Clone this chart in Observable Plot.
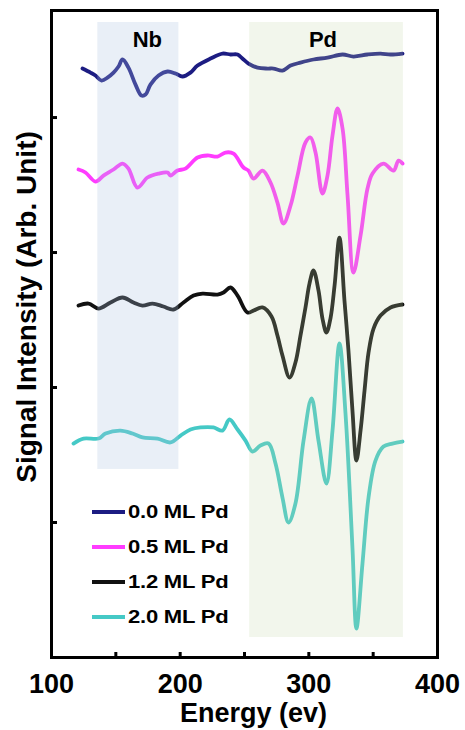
<!DOCTYPE html>
<html>
<head>
<meta charset="utf-8">
<script src="https://cdn.jsdelivr.net/npm/d3@7"></script>
<script src="https://cdn.jsdelivr.net/npm/@observablehq/plot@0.6"></script>
<style>
  html, body { margin: 0; padding: 0; background: #fff; }
  #wrap { position: relative; width: 465px; height: 730px; overflow: hidden; font-family: "Liberation Sans", Arial, sans-serif; }
  #legend { position: absolute; left: 92px; top: 500px; }
  .row { position: absolute; left: 0; height: 24px; display: flex; align-items: center; white-space: nowrap; }
  .sw { width: 33px; height: 3.5px; }
  .lab { font-weight: bold; font-size: 19px; color: #000; transform: scaleX(1.16); transform-origin: left center; margin-left: 3px; letter-spacing: -0.2px; }
</style>
</head>
<body>
<div id="wrap"></div>
<script>
// ---- series ----
const seriesNames  = ["0.0 ML Pd", "0.5 ML Pd", "1.2 ML Pd", "2.0 ML Pd"];
const seriesColors = ["#1c1c82", "#ff3cff", "#111111", "#45c9c6"];

// energy (eV) and signal (arb. units)
const energy00 = [124.1,130.3,134.2,138.9,143.5,148.2,152.1,155.2,159.8,165.3,169.9,173.1,176.9,183.2,190.2,196.4,201.8,208.0,213.5,223.6,232.9,239.1,244.6,248.4,253.1,260.1,267.9,272.5,279.5,285.8,293.5,303.6,314.5,326.2,334.7,345.6,355.7,363.5,372.8];
const signal00 = [436.3,433.3,431.1,427.4,429.6,433.3,437.8,443.0,437.0,424.4,416.3,417.0,424.4,431.1,434.1,432.6,430.4,433.3,438.5,443.7,447.4,446.7,446.7,443.7,440.0,437.0,436.3,436.3,434.8,438.5,440.7,443.0,444.4,446.7,445.2,446.7,447.4,446.7,447.4];

const energy05 = [121.0,126.4,134.2,140.4,148.2,155.2,159.8,166.8,174.6,183.2,190.2,192.5,197.9,204.1,213.5,221.2,229.0,235.2,241.5,249.2,253.1,257.0,264.0,270.2,275.6,280.3,285.8,291.2,297.4,301.3,305.2,310.6,314.5,318.4,322.3,326.2,330.1,334.7,340.2,345.6,349.5,358.0,365.8,369.7,372.8];
const signal05 = [361.5,359.3,352.6,357.0,361.5,365.9,362.2,348.1,355.6,358.5,359.3,357.0,360.7,362.2,370.4,371.9,371.1,374.1,373.3,363.0,360.7,354.8,360.7,351.9,337.0,321.5,334.8,357.0,381.5,385.2,374.1,343.7,357.0,386.7,406.7,391.9,342.2,285.2,312.6,347.4,358.5,365.9,360.7,368.1,365.9];

const energy12 = [121.0,128.8,136.5,145.9,155.2,163.7,170.7,178.5,187.0,194.8,202.6,210.4,217.4,229.0,233.7,239.1,244.6,252.3,257.0,264.0,271.0,275.6,279.5,285.0,289.6,293.5,297.4,300.5,303.6,307.5,310.6,313.7,316.8,320.0,323.8,327.7,330.8,333.9,337.0,340.2,343.3,346.4,350.3,355.7,363.5,372.8];
const signal12 = [260.7,262.2,258.5,263.0,266.7,263.0,260.7,262.2,260.0,257.8,263.0,268.1,269.6,268.9,270.4,274.1,268.1,255.6,257.0,259.3,252.6,238.5,223.7,207.4,218.5,238.5,259.3,277.0,286.7,271.9,251.1,240.7,251.1,275.6,311.1,264.4,227.4,183.0,145.9,168.1,197.8,225.9,243.7,253.3,259.3,261.5];

const energy20 = [117.1,124.9,136.5,142.0,153.6,163.0,170.7,182.4,192.5,200.3,208.0,215.8,225.9,232.9,238.3,244.6,250.8,256.2,262.4,268.7,274.1,279.5,284.2,289.6,295.9,302.1,307.5,313.7,318.4,323.8,328.5,333.9,337.0,341.7,346.4,351.8,358.0,365.0,372.8];
const signal20 = [158.5,162.2,162.2,165.9,168.1,165.9,163.0,162.2,159.3,164.4,168.9,170.4,170.4,168.1,176.3,168.9,160.7,152.6,157.0,158.5,143.7,118.5,100.0,114.1,160.7,191.9,160.7,128.9,168.1,232.6,180.7,81.5,21.5,69.6,118.5,145.9,156.3,158.5,160.0];

// ---- shaded regions ----
const regionNames   = ["Nb", "Pd"];
const regionStart   = [136, 254];
const regionEnd     = [199, 373.5];
const regionTop     = [470.4, 470.4];
const regionBottom  = [139.3, 14.8];
const regionLabelX  = [174.5, 311];
const regionFill    = ["rgb(175,195,225)", "rgb(195,215,170)"];
const regionOpacity = [0.27, 0.22];

// ---- axes ----
const xDomain = [100, 400];
const yDomain = [0, 479.3];
const xTickLabels = [100, 200, 300, 400];
const xTicks = [150, 200, 250, 300, 350];
const yTicks = [100, 200, 300, 400];
const xTitle = "Energy (ev)";
const yTitle = "Signal Intensity (Arb. Unit)";

// build table
const allE = [energy00, energy05, energy12, energy20];
const allS = [signal00, signal05, signal12, signal20];
const rows = [];
seriesNames.forEach((name, k) => {
  allE[k].forEach((e, i) => rows.push({series: name, energy: e, signal: allS[k][i]}));
});
const regions = regionNames.map((n, i) => ({name: n, x1: regionStart[i], x2: regionEnd[i], y1: regionBottom[i], y2: regionTop[i], lx: regionLabelX[i]}));

const W = 465, H = 730, mt = 10, mr = 28, mb = 73, ml = 51;
const frameW = W - ml - mr, frameH = H - mt - mb;

const chart = Plot.plot({
  width: W, height: H,
  marginTop: mt, marginRight: mr, marginBottom: mb, marginLeft: ml,
  x: {domain: xDomain, axis: null},
  y: {domain: yDomain, axis: null},
  color: {domain: seriesNames, range: seriesColors},
  style: {fontFamily: "Liberation Sans, Arial, sans-serif", background: "white", overflow: "visible"},
  marks: [
    Plot.line(rows, {x: "energy", y: "signal", z: "series", stroke: "series", strokeWidth: 3.8, curve: "catmull-rom", strokeLinejoin: "round", strokeLinecap: "round"}),
    ...regions.map((r, i) => Plot.rect([r], {x1: "x1", x2: "x2", y1: "y1", y2: "y2", fill: regionFill[i], fillOpacity: regionOpacity[i]})),
    Plot.text(regions, {x: "lx", text: "name", frameAnchor: "top", dy: 29, lineAnchor: "middle", fontSize: 22, fontWeight: "bold", fill: "black"}),
    Plot.tickX(xTicks, {x: d => d, insetTop: frameH - 5, stroke: "black", strokeWidth: 3}),
    Plot.tickY(yTicks, {y: d => d, insetRight: frameW - 6, stroke: "black", strokeWidth: 3}),
    Plot.text(xTickLabels, {x: d => d, text: d => String(d), frameAnchor: "bottom", dy: 27, lineAnchor: "middle", textAnchor: "middle", fontSize: 27, fontWeight: "bold", fill: "black"}),
    Plot.text([xTitle], {text: d => d, frameAnchor: "bottom", dx: 9, dy: 56, lineAnchor: "middle", textAnchor: "middle", fontSize: 27, fontWeight: "bold", fill: "black"}),
    Plot.text([yTitle], {text: d => d, frameAnchor: "left", dx: -24, dy: -27, rotate: -90, lineAnchor: "middle", textAnchor: "middle", fontSize: 28, fontWeight: "bold", fill: "black"}),
    Plot.frame({stroke: "black", strokeWidth: 3})
  ]
});

const wrap = document.getElementById("wrap");
wrap.appendChild(chart);

// legend inside the plot area
const legend = d3.select(wrap).append("div").attr("id", "legend");
seriesNames.forEach((name, i) => {
  const row = legend.append("div").attr("class", "row").style("top", (i * 35) + "px");
  row.append("div").attr("class", "sw").style("background", seriesColors[i]);
  row.append("span").attr("class", "lab").text(name);
});
</script>
</body>
</html>
